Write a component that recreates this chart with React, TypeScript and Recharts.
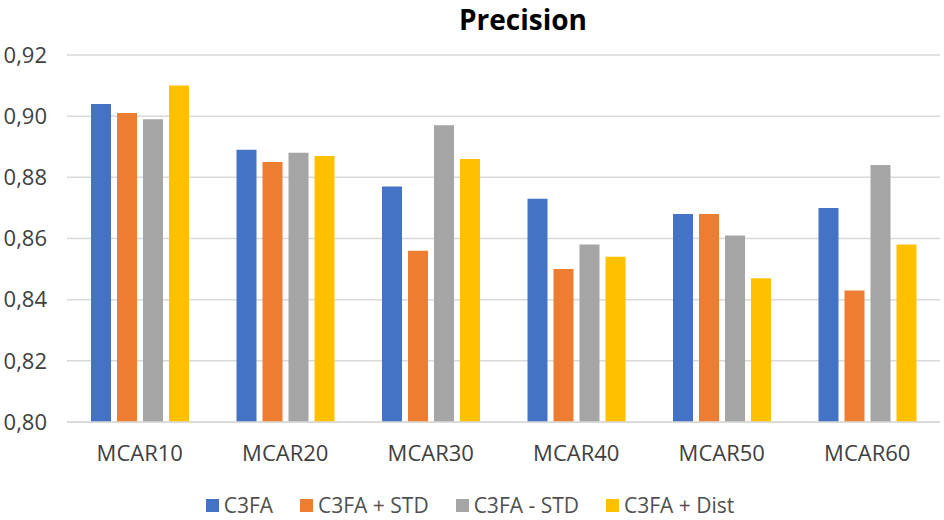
import React from 'react';
import { BarChart, Bar, XAxis, YAxis, CartesianGrid, Legend, Customized } from 'recharts';

const categories = ['MCAR10', 'MCAR20', 'MCAR30', 'MCAR40', 'MCAR50', 'MCAR60'];
const c3fa = [0.904, 0.889, 0.877, 0.873, 0.868, 0.87];
const c3faPlusStd = [0.901, 0.885, 0.856, 0.85, 0.868, 0.843];
const c3faMinusStd = [0.899, 0.888, 0.897, 0.858, 0.861, 0.884];
const c3faPlusDist = [0.91, 0.887, 0.886, 0.854, 0.847, 0.858];
const yTicks = [0.8, 0.82, 0.84, 0.86, 0.88, 0.9, 0.92];
const seriesNames = ['C3FA', 'C3FA + STD', 'C3FA - STD', 'C3FA + Dist'];
const seriesKeys = ['c3fa', 'plusStd', 'minusStd', 'plusDist'];
const seriesColors = ['#4472C4', '#ED7D31', '#A5A5A5', '#FFC000'];
const title = 'Precision';

const seriesValues = [c3fa, c3faPlusStd, c3faMinusStd, c3faPlusDist];
const data = categories.map((name, i) => {
  const row: Record<string, string | number> = { name };
  seriesKeys.forEach((k, s) => {
    row[k] = seriesValues[s][i];
  });
  return row;
});

const FONT = '"Open Sans", "Noto Sans", sans-serif';

const LegendContent = () => (
  <div
    style={{
      display: 'flex',
      justifyContent: 'center',
      alignItems: 'center',
      height: 30,
      lineHeight: '30px',
      fontFamily: FONT,
      fontSize: 21,
      color: '#505050',
    }}
  >
    {seriesNames.map((n, i) => (
      <div key={n} style={{ display: 'flex', alignItems: 'center', marginLeft: i === 0 ? 0 : 27, height: 30 }}>
        <div style={{ width: 13, height: 13, background: seriesColors[i], marginRight: 5 }} />
        <span style={{ lineHeight: '30px', whiteSpace: 'nowrap' }}>{n}</span>
      </div>
    ))}
  </div>
);

const Title = () => (
  <text x={523} y={30} textAnchor="middle" fontFamily={FONT} fontWeight={700} fontSize={28} fill="#000">
    {title}
  </text>
);

export default function App() {
  return (
    <div style={{ position: 'absolute', left: 0, top: 0, width: 944, height: 520, background: '#fff' }}>
      <BarChart
        width={944}
        height={520}
        data={data}
        margin={{ top: 55, right: 4, left: 0, bottom: 0 }}
        barSize={20}
        barGap={6}
      >
        <CartesianGrid vertical={false} stroke="#d9d9d9" strokeWidth={1.5} />
        <XAxis
          dataKey="name"
          height={68}
          tickLine={false}
          tickSize={0}
          tickMargin={23}
          axisLine={{ stroke: '#d9d9d9', strokeWidth: 1.5 }}
          tick={{ fill: '#404040', fontSize: 22, fontFamily: FONT }}
        />
        <YAxis
          width={67}
          domain={[0.8, 0.92]}
          ticks={yTicks}
          allowDataOverflow
          axisLine={false}
          tickLine={false}
          tickSize={0}
          tickMargin={20}
          tickFormatter={(v: number) => v.toFixed(2).replace('.', ',')}
          tick={{ fill: '#404040', fontSize: 22, fontFamily: FONT }}
        />
        <Legend verticalAlign="bottom" content={<LegendContent />} />
        {seriesKeys.map((k, i) => (
          <Bar key={k} dataKey={k} name={seriesNames[i]} fill={seriesColors[i]} isAnimationActive={false} />
        ))}
        <Customized component={<Title />} />
      </BarChart>
    </div>
  );
}
